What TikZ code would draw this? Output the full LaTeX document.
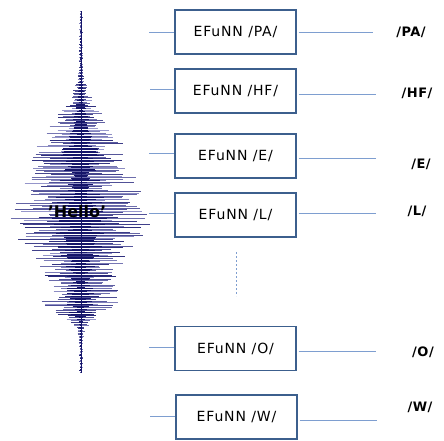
\documentclass[tikz,border=0pt]{standalone}
\usepackage{fontspec}
\setmainfont{DejaVu Sans}
\newfontfamily\boxfont[LetterSpace=6]{DejaVu Sans}
\newfontfamily\phonfont[LetterSpace=4]{DejaVu Sans}
\definecolor{boxline}{HTML}{3C5F8D}
\definecolor{wire}{HTML}{7E9ED0}
\definecolor{wave}{HTML}{15156A}
\definecolor{waveLight}{HTML}{A8A8D8}
\tikzset{
  efunn/.style={draw=boxline, line width=1.3pt, minimum width=121pt, minimum height=44pt,
    inner sep=0pt, font=\boxfont\fontsize{14}{15}\selectfont},
  wireline/.style={draw=wire, line width=1pt},
  phon/.style={font=\phonfont\bfseries\fontsize{13}{14}\selectfont, inner sep=0pt},
}
\begin{document}
\begin{tikzpicture}[x=1pt,y=-1pt]
\useasboundingbox[fill=white] (0,0) rectangle (444,440);

% speech waveform of the spoken word
\pgfmathsetseed{11}
\foreach \ya/\wa/\yb/\wb in {11/1.5/70/2.5, 70/2.5/85/6, 85/6/100/12, 100/12/117/25, 117/25/140/40,
  140/40/155/50, 155/50/180/55, 180/55/200/65, 200/65/218/74, 218/74/233/66, 233/66/250/60,
  250/60/267/40, 267/40/283/34, 283/34/297/42, 297/42/310/35, 310/35/320/15, 320/15/328/5,
  328/5/340/2.5, 340/2.5/373/1.5}{
  \pgfmathtruncatemacro\n{(\yb-\ya)/1.45}
  \foreach \k in {1,...,\n}{
    \pgfmathsetmacro\yy{\ya+(\k-0.5)*(\yb-\ya)/\n}
    \pgfmathsetmacro\ww{\wa+(\k-0.5)/\n*(\wb-\wa)}
    \pgfmathsetmacro\lw{\ww*(0.35+0.65*rnd)}
    \pgfmathsetmacro\rw{\ww*(0.35+0.65*rnd)}
    \pgfmathtruncatemacro\c{10+80*rnd}
    \draw[color=wave!\c!waveLight, line width=1pt] (81-\lw,\yy) -- (81+\rw,\yy);
    \pgfmathsetmacro\iw{\ww*(0.1+0.3*rnd)}
    \draw[color=wave, line width=0.6pt] (81-\iw,\yy) -- (81+\iw*0.9,\yy);
  }
}
\coordinate (wt) at (81,11);
\coordinate (wb) at (81,373);
\draw[wave, line width=0.7pt] (wt) -- (wb);
\node[text=black, font=\bfseries\fontsize{16}{17}\selectfont, inner sep=0pt] (hello) at (77,212) {'Hello'};

% EFuNN modules
\node[efunn] (pa) at (235.5,32) {EFuNN /PA/};
\node[efunn] (hf) at (235.5,91) {EFuNN /HF/};
\node[efunn] (e)  at (235.5,156) {EFuNN /E/};
\node[efunn] (l)  at (235.5,215) {EFuNN /L/};
\node[efunn] (o)  at (235.5,348.5) {EFuNN /O/};
\node[efunn] (w)  at (236.5,417) {EFuNN /W/};

% output phoneme labels
\node[phon] (opa) at (411,32) {/PA/};
\node[phon] (ohf) at (417,93) {/HF/};
\node[phon] (oe)  at (421,164) {/E/};
\node[phon] (ol)  at (417,211) {/L/};
\node[phon] (oo)  at (423,352) {/O/};
\node[phon] (ow)  at (420,407) {/W/};

% input wires
\foreach \b/\y/\x in {pa/32/149, hf/89/150, e/153/149, l/213/149, o/347/149, w/416/150}{
  \coordinate (in-\b) at (\x,\y);
  \draw[wireline] (in-\b) -- (\b.west |- in-\b);
}
% output wires
\foreach \b/\y/\x in {pa/32/373, hf/94/376, e/158/376, l/213/376, o/351/376, w/420/377}{
  \coordinate (out-\b) at (\x,\y);
  \draw[wireline] ([xshift=2pt]\b.east |- out-\b) -- (out-\b);
}

% further modules omitted
\coordinate (dt) at (236,252);
\coordinate (db) at (236,296);
\draw[wire, line width=0.8pt, dash pattern=on 2pt off 2pt] (dt) -- (db);
\end{tikzpicture}
\end{document}
